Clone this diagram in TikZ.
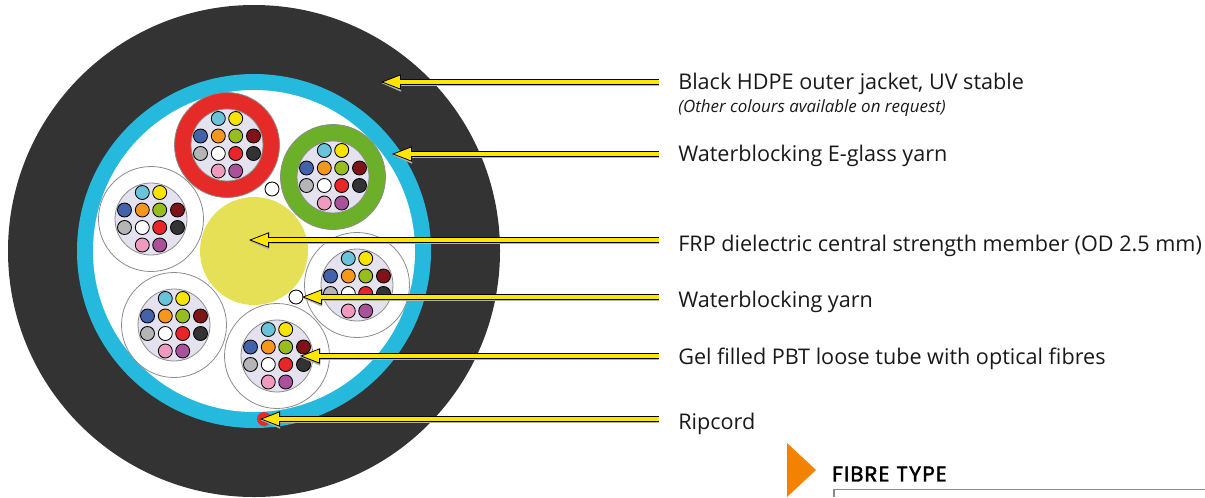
\documentclass[tikz,border=0pt]{standalone}
\usepackage{fontspec}
\setmainfont{Open Sans}
\newfontfamily\headfont[FakeBold=1.8,LetterSpace=5]{Poppins}
\usetikzlibrary{arrows.meta}
\definecolor{jacket}{RGB}{51,51,51}
\definecolor{yarnblue}{RGB}{37,185,222}
\definecolor{memberyellow}{RGB}{229,224,86}
\definecolor{tubefill}{RGB}{228,226,239}
\definecolor{tubered}{RGB}{230,42,39}
\definecolor{tubegreen}{RGB}{108,176,42}
\definecolor{arrowyellow}{RGB}{255,230,0}
\definecolor{tickorange}{RGB}{242,130,0}
\tikzset{
  calloutlabel/.style={anchor=west,inner xsep=14.25pt,inner ysep=0pt,font=\fontsize{16.2pt}{18pt}\selectfont,text=black!90},
  callout/.style={line width=3.8pt,draw=black,
    -{Triangle[length=15pt,width=11.5pt,line width=.6pt,fill=arrowyellow]},
    preaction={draw=black!30,line width=3.8pt,transform canvas={yshift=-.9pt},-{Triangle[length=15pt,width=11.5pt]}}},
  calloutcore/.style={line width=2.3pt,draw=arrowyellow,shorten >=12pt},
  fibre/.style={draw=black,line width=.65pt},
  tubeedge/.style={draw=black!45,line width=.6pt}
}
\begin{document}
\begin{tikzpicture}[x=0.75pt,y=0.75pt,yscale=-1]
\useasboundingbox (0,0) rectangle (1205,497);
\clip (0,0) rectangle (1205,497);

%jacket, yarn ring, central member
\fill [jacket] (254,251) circle (246);
\fill [yarnblue] (254,251) circle (177);
\fill [white] (254,251) circle (161);
\fill [memberyellow] (254,251) circle (54);

%small yarns and ripcord
\draw [fibre,fill=white] (272,189) circle (7);
\draw [fibre,fill=white] (296,297) circle (7);
\fill [tubered] (264,419) circle (7);

%loose tubes
\foreach \cx/\cy/\ring in {227/145/tubered,333/177/tubegreen,151/219/white,357/285/white,174/325/white,277/356/white}{
  \draw [tubeedge,fill=\ring] (\cx,\cy) circle (52.5);
  \draw [tubeedge,fill=tubefill] (\cx,\cy) circle (36);
  \foreach \dx/\dy/\col in {
    -8.7/-26.5/{rgb,255:red,105;green,196;blue,217},8.7/-26.5/{rgb,255:red,247;green,229;blue,0},
    -26.5/-9/{rgb,255:red,66;green,99;blue,169},-8.7/-9/{rgb,255:red,246;green,151;blue,29},8.7/-9/{rgb,255:red,152;green,189;blue,30},26.5/-9/{rgb,255:red,127;green,19;blue,24},
    -26.5/8.5/{rgb,255:red,181;green,181;blue,181},-8.7/8.5/white,8.7/8.5/{rgb,255:red,232;green,38;blue,42},26.5/8.5/{rgb,255:red,51;green,51;blue,51},
    -8.7/26/{rgb,255:red,238;green,155;blue,191},8.7/26/{rgb,255:red,169;green,82;blue,154}}{
    \draw [fibre,fill/.expanded=\col] (\cx+\dx,\cy+\dy) circle (7);
  }
}

%labels
\node [calloutlabel] (lblJacket) at (659,84) {Black HDPE outer jacket, UV stable};
\node [anchor=west,inner sep=0pt,font=\fontsize{12.7pt}{14pt}\selectfont\itshape,text=black!90] (lblNote) at (678,108.5) {(Other colours available on request)};
\node [calloutlabel] (lblGlass) at (659,156) {Waterblocking E-glass yarn};
\node [calloutlabel] (lblMember) at (659,245.5) {FRP dielectric central strength member (OD 2.5 mm)};
\node [calloutlabel] (lblYarn) at (659,302) {Waterblocking yarn};
\node [calloutlabel] (lblTube) at (659,359) {Gel filled PBT loose tube with optical fibres};
\node [calloutlabel] (lblRip) at (659,424) {Ripcord};

%arrow ends
\coordinate (tipJacket) at (381,82);
\coordinate (tipGlass) at (392,154);
\coordinate (tipMember) at (249,240);
\coordinate (tipYarn) at (302,297);
\coordinate (tipTube) at (300,356);
\coordinate (tipRip) at (260,419);

\foreach \lbl/\tip in {lblJacket/tipJacket,lblGlass/tipGlass,lblMember/tipMember,lblYarn/tipYarn,lblTube/tipTube,lblRip/tipRip}{
  \draw [callout] (\tip -| \lbl.west) -- (\tip);
  \draw [calloutcore] (\tip -| \lbl.west) -- (\tip);
}

%fibre type heading
\fill [tickorange] (787,443) -- (816,470) -- (787,497) -- cycle;
\node [anchor=west,inner sep=0pt,font=\fontsize{16pt}{17pt}\selectfont\headfont] (lblFibre) at (832,474) {FIBRE TYPE};
\draw [black!45,line width=.8pt] (834,497) -- (834,489.5) -- (1205,489.5);
\end{tikzpicture}
\end{document}
